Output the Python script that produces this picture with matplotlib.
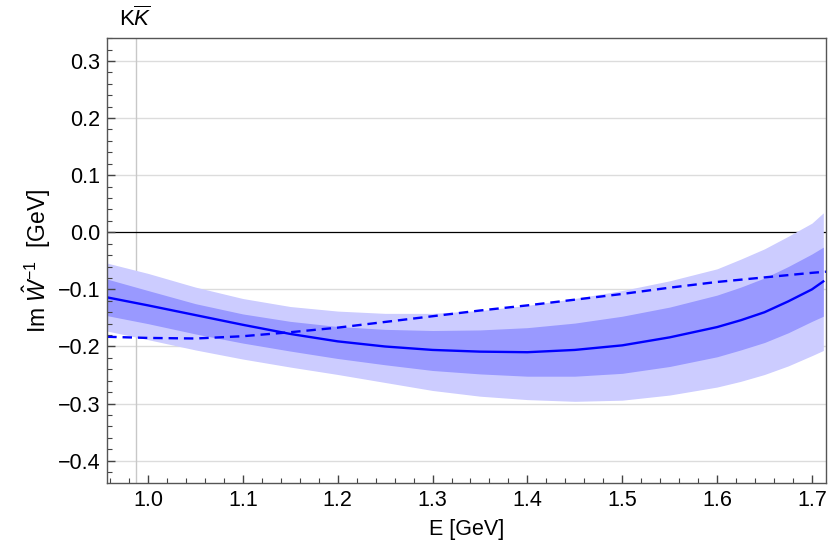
import numpy as np
import matplotlib.pyplot as plt
from matplotlib.ticker import MultipleLocator

plt.rcParams['font.family'] = ['Liberation Sans', 'DejaVu Sans']
plt.rcParams['mathtext.fontset'] = 'custom'
plt.rcParams['mathtext.rm'] = 'Liberation Sans'
plt.rcParams['mathtext.it'] = 'Liberation Sans:italic'

# energies (GeV)
E = [0.957, 1.0, 1.05, 1.1, 1.15, 1.2, 1.25, 1.3, 1.35, 1.4, 1.45, 1.5, 1.55, 1.6, 1.625, 1.65,
     1.675, 1.7, 1.712]
central = [-0.114, -0.128, -0.145, -0.162, -0.178, -0.191, -0.200, -0.206, -0.209, -0.210, -0.206,
           -0.198, -0.184, -0.166, -0.154, -0.140, -0.121, -0.100, -0.086]
inner_hi = [-0.082, -0.102, -0.125, -0.143, -0.156, -0.165, -0.170, -0.172, -0.171, -0.167, -0.159,
            -0.147, -0.131, -0.110, -0.096, -0.080, -0.060, -0.038, -0.026]
inner_lo = [-0.146, -0.160, -0.178, -0.194, -0.208, -0.221, -0.232, -0.242, -0.248, -0.252, -0.252,
            -0.247, -0.235, -0.218, -0.206, -0.193, -0.176, -0.156, -0.147]
outer_hi = [-0.054, -0.072, -0.096, -0.116, -0.130, -0.138, -0.142, -0.142, -0.137, -0.128, -0.116,
            -0.102, -0.085, -0.064, -0.047, -0.029, -0.007, 0.016, 0.034]
outer_lo = [-0.173, -0.188, -0.206, -0.222, -0.236, -0.249, -0.263, -0.277, -0.287, -0.293, -0.296,
            -0.294, -0.285, -0.271, -0.261, -0.249, -0.234, -0.216, -0.207]

E_dash = [0.957, 1.0, 1.05, 1.1, 1.15, 1.2, 1.25, 1.3, 1.35, 1.4, 1.45, 1.5, 1.55, 1.6, 1.65, 1.7, 1.715]
dashed = [-0.183, -0.185, -0.186, -0.182, -0.175, -0.167, -0.157, -0.147, -0.137, -0.128, -0.118,
          -0.108, -0.097, -0.087, -0.079, -0.071, -0.069]

threshold = 0.987  # K Kbar threshold

fig = plt.figure(figsize=(8.36, 5.52), dpi=100)
ax = fig.add_axes([0.128, 0.125, 0.860, 0.806])

ax.fill_between(E, outer_lo, outer_hi, color='#ccccff', lw=0)
ax.fill_between(E, inner_lo, inner_hi, color='#9999ff', lw=0)
ax.plot(E, central, color='#0000ff', lw=1.7)
ax.plot(E_dash, dashed, color='#0000ff', lw=1.7, ls=(0, (4, 2.5)))

for y in [-0.4, -0.3, -0.2, -0.1, 0.1, 0.2, 0.3]:
    ax.axhline(y, color='#dcdcdc', lw=1, zorder=0)
ax.axhline(0, color='black', lw=0.9, zorder=0.5)
ax.axvline(threshold, color='#c8c8c8', lw=1, zorder=0)

ax.set_xlim(0.9568, 1.7148)
ax.set_ylim(-0.439, 0.34)
ax.xaxis.set_major_locator(MultipleLocator(0.1))
ax.xaxis.set_minor_locator(MultipleLocator(0.02))
ax.yaxis.set_major_locator(MultipleLocator(0.1))
ax.yaxis.set_minor_locator(MultipleLocator(0.02))
ax.xaxis.set_major_formatter(plt.FuncFormatter(lambda v, p: f'{v:.1f}'))
ax.yaxis.set_major_formatter(plt.FuncFormatter(lambda v, p: f'{v:.1f}'.replace('-', '\u2212')))

ax.tick_params(which='both', direction='in', top=False, right=False, labelsize=15.5, color='#444444')
ax.tick_params(which='major', length=6, width=1, pad=5)
ax.tick_params(which='minor', length=3.5, width=0.8)
for s in ax.spines.values():
    s.set_color('#555555')
    s.set_linewidth(1)

ax.set_xlabel('E [GeV]', fontsize=15.5, labelpad=6)
ax.set_ylabel(r'Im $\hat{W}^{-1}$  [GeV]', fontsize=16.5, labelpad=3)

ax.text(threshold, 1.015, r'K$\overline{K}$', transform=ax.get_xaxis_transform(),
        ha='center', va='bottom', fontsize=16)

fig.savefig('out.png', dpi=100)
